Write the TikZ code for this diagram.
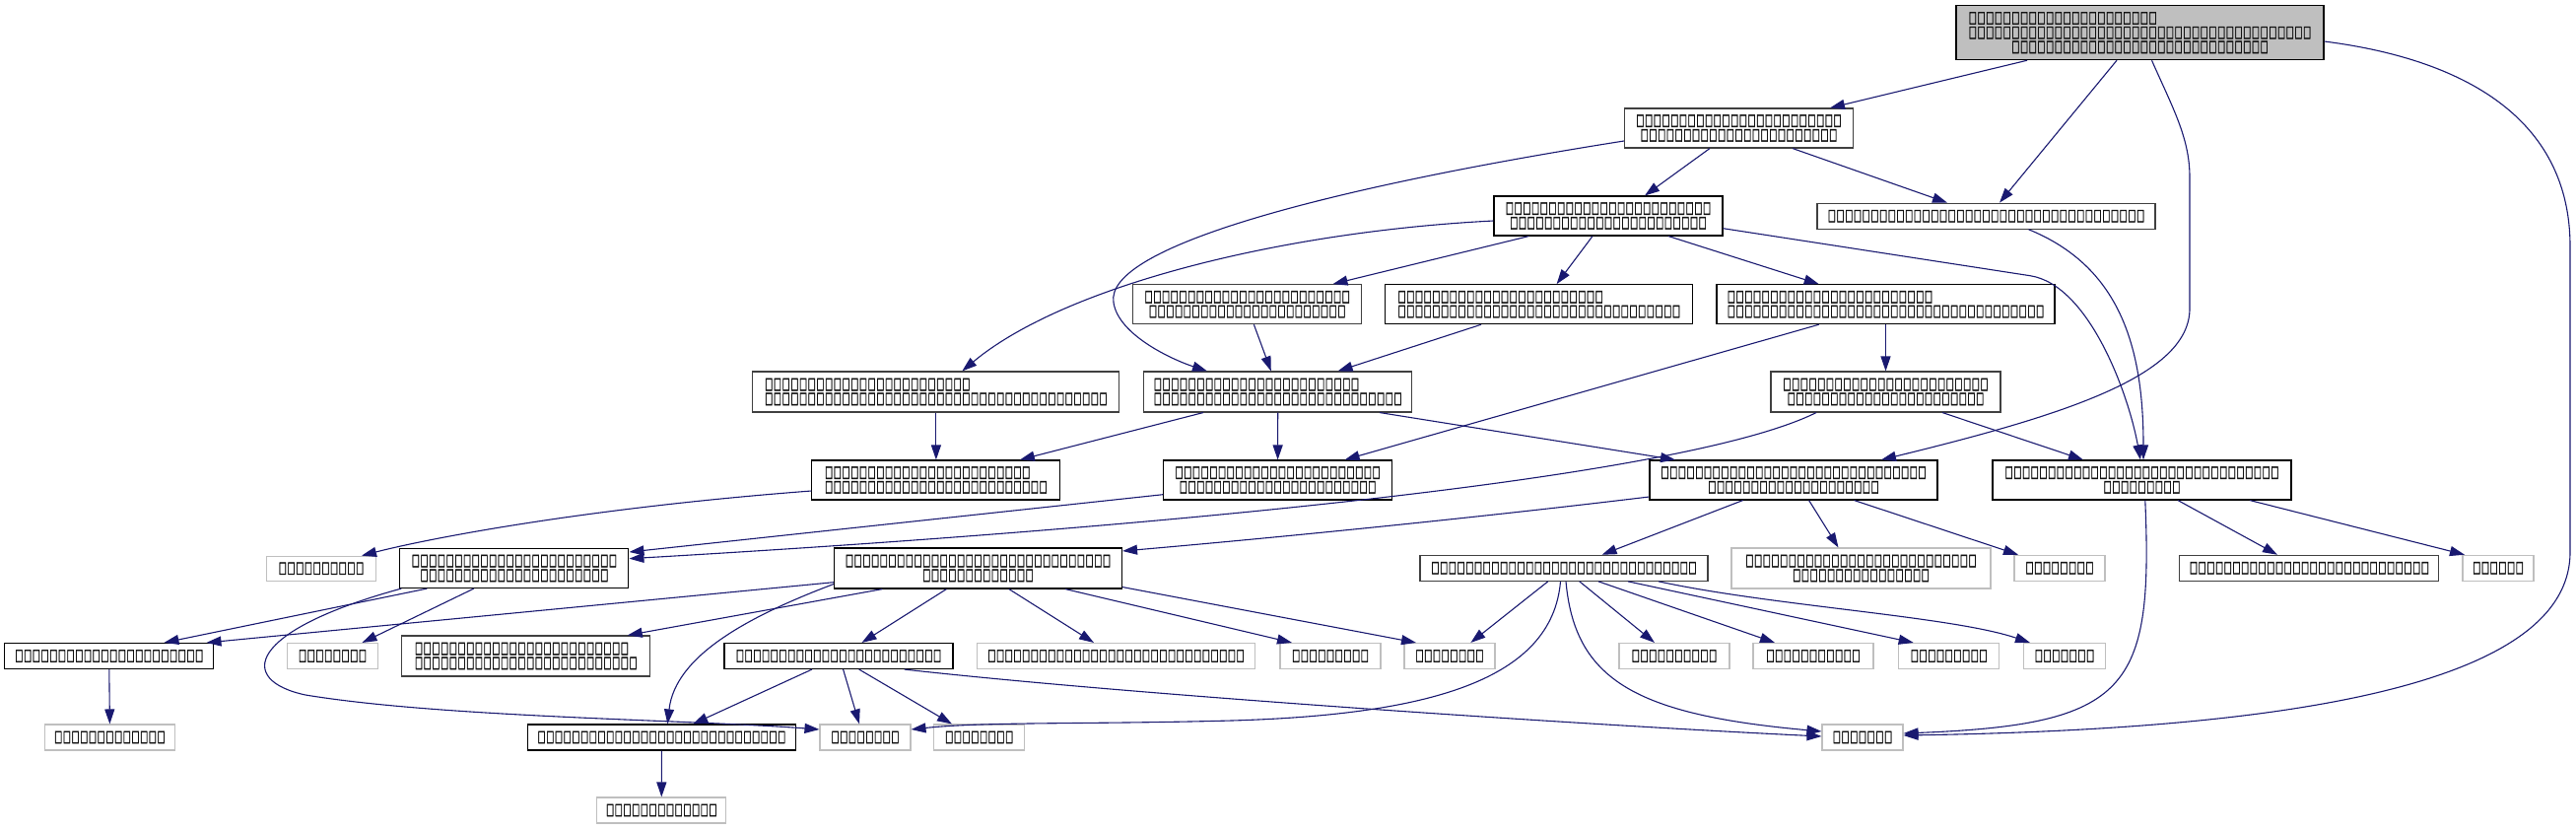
\documentclass[tikz,border=0pt]{standalone}
\usepackage{fontspec}
\usepackage{graphicx}
\usetikzlibrary{arrows.meta,calc}
\newfontfamily\tofu[FakeBold=3]{DejaVu Sans}
\definecolor{edgeblue}{HTML}{191970}
\definecolor{dkgray}{HTML}{404040}
\definecolor{ltgray}{HTML}{BFBFBF}
\definecolor{rootfill}{HTML}{BFBFBF}
\definecolor{txt}{HTML}{111111}
\newcommand\tb{\makebox[4.35pt]{\resizebox{3.9pt}{5.2pt}{\tofu □}}}
\ExplSyntaxOn
\NewDocumentCommand\T{m}{\prg_replicate:nn{#1}{\tb}}
\ExplSyntaxOff
\tikzset{
  nd/.style={draw=black, fill=white, line width=0.55pt, inner sep=0pt, align=center, text=txt,
    font=\fontsize{5pt}{7.35pt}\selectfont},
  dk/.style={draw=dkgray},
  lg/.style={draw=ltgray},
  wh/.style 2 args={minimum width=#1*0.5pt, minimum height=#2*0.5pt},
  edg/.style={draw=edgeblue, line width=0.55pt, -{Triangle[length=7.5pt,width=5pt]}}
}
\begin{document}
\begin{tikzpicture}[x=0.5pt,y=-0.5pt]
\useasboundingbox (0,0) rectangle (2614,841);
% nodes
\node[nd,wh={373}{55},fill=rootfill,align=left] (A) at (2171.5,33.2) {\T{22}\\\T{40}\\\hspace*{21.75pt}\T{30}};
\node[nd,dk,wh={232}{40}] (B) at (1764.5,130) {\T{24}\\\T{23}};
\node[nd,wh={232}{40}] (C) at (1632,219) {\T{24}\\\T{23}};
\node[nd,dk,wh={343}{26}] (D) at (2015.5,219.2) {\T{37}};
\node[nd,dk,wh={232}{40}] (E) at (1265.7,308.7) {\T{24}\\\T{23}};
\node[nd,wh={312}{40},align=left] (F) at (1561.8,308.7) {\T{24}\\\T{33}};
\node[nd,wh={343}{40},align=left] (G) at (1913.5,308.7) {\T{24}\\\T{37}};
\node[nd,dk,wh={372}{41},align=left] (H) at (949.9,397.5) {\T{24}\\\T{40}};
\node[nd,dk,wh={272}{41},align=left] (I) at (1296.7,397.5) {\T{24}\\\T{29}};
\node[nd,dk,wh={233}{41}] (J) at (1913.5,397.5) {\T{24}\\\T{23}};
\node[nd,wh={252}{40},align=left] (K) at (949.9,487) {\T{24}\\\T{26}};
\node[nd,wh={232}{40}] (L) at (1296.6,487) {\T{24}\\\T{23}};
\node[nd,wh={292}{40}] (M) at (1820,487) {\T{31}\\\T{20}};
\node[nd,wh={303}{40}] (N) at (2173.5,487) {\T{32}\\\T{9}};
\node[nd,lg,wh={111}{25}] (P) at (326,576.7) {\T{10}};
\node[nd,wh={232}{40}] (Q) at (521.9,576.5) {\T{24}\\\T{22}};
\node[nd,wh={292}{41}] (R) at (992.5,576.5) {\T{31}\\\T{13}};
\node[nd,dk,wh={292}{26}] (S) at (1587,576.3) {\T{31}};
\node[nd,lg,wh={263}{41}] (O) at (1888.5,576.5) {\T{27}\\\T{16}};
\node[nd,lg,wh={92}{26}] (T) at (2090,576.3) {\T{8}};
\node[nd,dk,wh={263}{26}] (U) at (2343.4,576.3) {\T{28}};
\node[nd,lg,wh={72}{26}] (V) at (2535,576.3) {\T{6}};
\node[nd,wh={212}{26}] (W) at (110.8,665.5) {\T{22}};
\node[nd,lg,wh={92}{26}] (X) at (337.5,665.5) {\T{8}};
\node[nd,dk,wh={252}{41},align=left] (Y) at (533.8,665.5) {\T{25}\\\T{26}};
\node[nd,wh={232}{26}] (Z) at (851,665.5) {\T{24}};
\node[nd,lg,wh={282}{26}] (AA) at (1132.5,665.5) {\T{30}};
\node[nd,lg,wh={102}{26}] (AB) at (1350,665.5) {\T{9}};
\node[nd,lg,wh={92}{26}] (AC) at (1471,665.5) {\T{8}};
\node[nd,lg,wh={112}{26}] (AE) at (1699,665.5) {\T{10}};
\node[nd,lg,wh={122}{26}] (AF) at (1840,665.5) {\T{11}};
\node[nd,lg,wh={102}{26}] (AG) at (1977.7,665.5) {\T{9}};
\node[nd,lg,wh={83}{26}] (AH) at (2095,665.5) {\T{7}};
\node[nd,lg,wh={132}{26}] (AI) at (111.4,748) {\T{13}};
\node[nd,wh={272}{26}] (AJ) at (671.4,748) {\T{29}};
\node[nd,lg,wh={92}{26}] (AK) at (878,748) {\T{8}};
\node[nd,lg,wh={92}{26}] (AL) at (993.7,748) {\T{8}};
\node[nd,lg,wh={82}{26}] (AM) at (1890,748) {\T{7}};
\node[nd,lg,wh={131}{26}] (AN) at (671.3,822) {\T{13}};
% edges
\draw[edg] ($(A.south)+(-114.5,0)$) -- ($(B.north)+(92.5,0)$);
\draw[edg] ($(A.south)+(-23.5,0)$) -- ($(D.north)+(13.5,0)$);
\draw[edg] ($(A.south)+(12,0)$) .. controls (2205,110) and (2222,140) .. (2222,180) -- (2222,313) .. controls (2222,380) and (2100,420) .. ($(M.north)+(89,0)$);
\draw[edg] ($(A.east)+(0,8.8)$) .. controls (2500,60) and (2608,120) .. (2608,250) -- (2608,560) .. controls (2608,700) and (2300,740) .. ($(AM.east)+(0,-2)$);
\draw[edg] ($(B.south)+(-29.5,0)$) -- ($(C.north)+(37,0)$);
\draw[edg] ($(B.south)+(54.5,0)$) -- ($(D.north)+(-39.5,0)$);
\draw[edg] ($(B.west)+(0,13)$) .. controls (1350,190) and (1120,250) .. (1130,307) .. controls (1135,340) and (1190,365) .. ($(I.north)+(-71.7,0)$);
\draw[edg] ($(C.south)+(-80.5,0)$) -- ($(E.north)+(86.8,0)$);
\draw[edg] ($(C.south)+(-16,0)$) -- ($(F.north)+(17.8,0)$);
\draw[edg] ($(C.south)+(61,0)$) -- ($(G.north)+(-67.8,0)$);
\draw[edg] ($(C.west)+(0,5)$) .. controls (1300,235) and (1080,290) .. ($(H.north)+(26.4,0)$);
\draw[edg] ($(C.east)+(0,12.7)$) -- (2060,279.7) .. controls (2120,289) and (2160,400) .. ($(N.north)+(-1.5,0)$);
\draw[edg] ($(D.south)+(43,0)$) .. controls (2150,270) and (2175,350) .. ($(N.north)+(1.5,0)$);
\draw[edg] ($(E.south)+(6.7,0)$) -- ($(I.north)+(-6.9,0)$);
\draw[edg] ($(F.south)+(-58.8,0)$) -- ($(I.north)+(60.9,0)$);
\draw[edg] ($(G.south)+(-67.8,0)$) -- ($(L.north)+(68,0)$);
\draw[edg] (G.south) -- (J.north);
\draw[edg] (H.south) -- (K.north);
\draw[edg] ($(I.south)+(-75.7,0)$) -- ($(K.north)+(85,0)$);
\draw[edg] (I.south) -- (L.north);
\draw[edg] ($(I.south)+(103.3,0)$) -- ($(M.north)+(-120,0)$);
\draw[edg] ($(J.south)+(-70.5,0)$) .. controls (1700,490) and (1100,540) .. ($(Q.east)+(0,-9.8)$);
\draw[edg] ($(J.south)+(57.5,0)$) -- ($(N.north)+(-59.5,0)$);
\draw[edg] ($(K.west)+(0,11)$) .. controls (600,515) and (440,545) .. ($(P.north)+(41,0)$);
\draw[edg] ($(L.west)+(0,14.7)$) -- ($(Q.east)+(0,-16.5)$);
\draw[edg] ($(M.west)+(0,17)$) .. controls (1500,525) and (1300,545) .. ($(R.east)+(0,-17.5)$);
\draw[edg] ($(M.south)+(-51.4,0)$) -- ($(S.north)+(38.6,0)$);
\draw[edg] ($(M.south)+(15.6,0)$) -- ($(O.north)+(-23,0)$);
\draw[edg] ($(M.south)+(61.5,0)$) -- ($(T.north)+(-42,0)$);
\draw[edg] ($(N.south)+(36.5,0)$) -- ($(U.north)+(-32.4,0)$);
\draw[edg] ($(N.south)+(109.5,0)$) -- ($(V.north)+(-34,0)$);
\draw[edg] ($(N.south)+(3.3,0)$) .. controls (2185,700) and (2160,735) .. ($(AM.east)+(0,-4)$);
\draw[edg] ($(R.west)+(0,14.2)$) -- ($(W.north)+(98.7,0)$);
\draw[edg] ($(Q.south)+(-88.5,0)$) -- ($(W.north)+(55.7,0)$);
\draw[edg] ($(Q.south)+(-41,0)$) -- ($(X.north)+(30,0)$);
\draw[edg] ($(Q.south west)+(2,0)$) .. controls (250,640) and (240,690) .. (310,705) .. controls (450,728) and (700,730) .. ($(AK.west)+(0,-8)$);
\draw[edg] ($(R.west)+(0,16)$) .. controls (760,625) and (685,665) .. ($(AJ.north)+(6,0)$);
\draw[edg] ($(R.south)+(-97,0)$) -- ($(Y.north)+(103,0)$);
\draw[edg] ($(R.south)+(-32,0)$) -- ($(Z.north)+(23.5,0)$);
\draw[edg] ($(R.south)+(31.3,0)$) -- ($(AA.north)+(-22.5,0)$);
\draw[edg] ($(R.south)+(88.5,0)$) -- ($(AB.north)+(-39,0)$);
\draw[edg] ($(R.south east)+(0,-2)$) -- ($(AC.north)+(-34,0)$);
\draw[edg] ($(Z.south)+(-27,0)$) -- ($(AJ.north)+(31.8,0)$);
\draw[edg] ($(Z.south)+(4.6,0)$) -- ($(AK.north)+(-6,0)$);
\draw[edg] ($(Z.south)+(20.7,0)$) -- ($(AL.north)+(-27.7,0)$);
\draw[edg] ($(Z.south)+(66.6,0)$) .. controls (1150,705) and (1600,735) .. ($(AM.west)+(0,-1)$);
\draw[edg] ($(S.south)+(-16.2,0)$) -- ($(AC.north)+(21.4,0)$);
\draw[edg] ($(S.south)+(-3.5,0)$) .. controls (1575,690) and (1450,725) .. (1250,731) .. controls (1100,735) and (1000,732) .. ($(AK.east)+(0,-8)$);
\draw[edg] ($(S.south)+(2,0)$) .. controls (1598,690) and (1660,725) .. ($(AM.west)+(0,-6)$);
\draw[edg] ($(S.south)+(15.8,0)$) -- ($(AE.north)+(-20,0)$);
\draw[edg] ($(S.south)+(35,0)$) -- ($(AF.north)+(-39,0)$);
\draw[edg] ($(S.south)+(65,0)$) -- ($(AG.north)+(-36,0)$);
\draw[edg] ($(S.south)+(96,0)$) .. controls (1800,615) and (1980,625) .. ($(AH.north)+(-35,0)$);
\draw[edg] (W.south) -- (AI.north);
\draw[edg] (AJ.south) -- (AN.north);
\end{tikzpicture}
\end{document}
